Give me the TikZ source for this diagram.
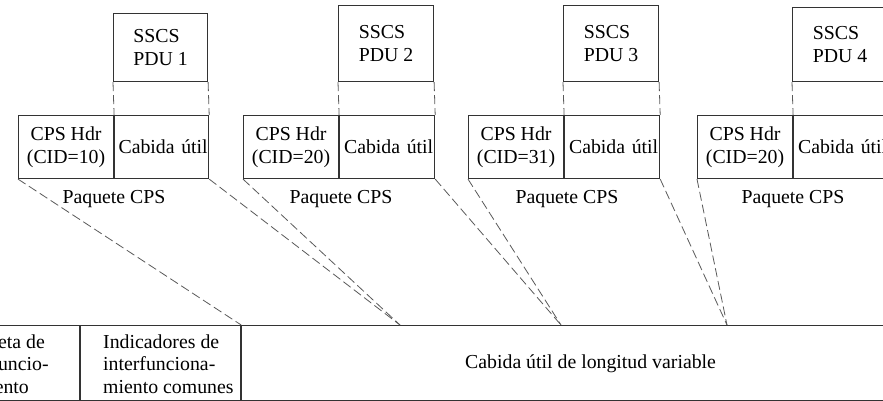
\documentclass[tikz,border=0pt]{standalone}
\usepackage{fontspec}
\setmainfont{Liberation Serif}
\begin{document}
\begin{tikzpicture}[x=1pt,y=-1pt,
  font=\fontsize{19.8}{22.5}\selectfont,
  cell/.style={draw=black!80, line width=1.1pt, inner sep=0pt, anchor=north west, align=center},
  pdu/.style={cell, minimum height=76pt, align=left},
  hdr/.style={cell, minimum width=95pt, minimum height=63pt},
  pay/.style={cell, minimum width=94pt, minimum height=63pt, text width=92pt, align=right},
  link/.style={draw=black!65, line width=0.8pt, dash pattern=on 9pt off 4pt},
  txt/.style={inner sep=0pt, text=black}]
\clip (0,0) rectangle (883,401);

% SSCS PDUs
\node[pdu, minimum width=94pt, minimum height=68pt] (p1) at (113,13) {SSCS\\PDU 1};
\node[pdu, minimum width=95pt] (p2) at (338,5) {SSCS\\PDU 2};
\node[pdu, minimum width=95pt] (p3) at (563,5) {SSCS\\PDU 3};
\node[pdu, minimum width=95pt, minimum height=74pt] (p4) at (792,7) {SSCS\\PDU 4};

% CPS packets: header + payload
\node[hdr] (h1) at (18,115)  {CPS Hdr\\(CID=10)};
\node[pay] (u1) at (h1.north east) {Cabida útil};
\node[hdr] (h2) at (243,115) {CPS Hdr\\(CID=20)};
\node[pay, minimum width=95pt] (u2) at (h2.north east) {Cabida útil};
\node[hdr] (h3) at (468,115) {CPS Hdr\\(CID=31)};
\node[pay, minimum width=95pt] (u3) at (h3.north east) {Cabida útil};
\node[hdr] (h4) at (697,115) {CPS Hdr\\(CID=20)};
\node[pay, minimum width=95pt] (u4) at (h4.north east) {Cabida útil};

% packet labels
\node[txt, anchor=base] (l1) at (114,203) {Paquete CPS};
\node[txt, anchor=base] (l2) at (341,203) {Paquete CPS};
\node[txt, anchor=base] (l3) at (567,203) {Paquete CPS};
\node[txt, anchor=base] (l4) at (793,203) {Paquete CPS};

% PDU to payload guides
\foreach \i in {1,2,3,4} {
  \draw[link] (p\i.south west) -- (u\i.north west);
  \draw[link] (p\i.south east) -- (u\i.north east);
}

% bottom frame
\node[cell, minimum width=136pt, minimum height=75pt] (b1) at (-57,325) {};
\node[cell, minimum width=160pt, minimum height=75pt] (b2) at (b1.north east) {};
\node[cell, minimum width=700pt, minimum height=75pt] (b3) at (b2.north east) {};

\node[txt, anchor=north west, align=left] (t1) at (-45,334.5) {Etiqueta de\\interfuncio-\\namiento};
\node[txt, anchor=north west, align=left] (t2) at (103,334.5) {Indicadores de\\interfunciona-\\miento comunes};
\node[txt, anchor=base west] (t3) at (465,368) {Cabida útil de longitud variable};

% where the packets land in the payload
\coordinate (m1) at (400,325);
\coordinate (m2) at (561,325);
\coordinate (m3) at (727,325);

\draw[link] (h1.south west) -- (b2.north east);
\draw[link] (u1.south east) -- (m1);
\draw[link] (h2.south west) -- (m1);
\draw[link] (u2.south east) -- (m2);
\draw[link] (h3.south west) -- (m2);
\draw[link] (u3.south east) -- (m3);
\draw[link] (h4.south west) -- (m3);
\end{tikzpicture}
\end{document}
